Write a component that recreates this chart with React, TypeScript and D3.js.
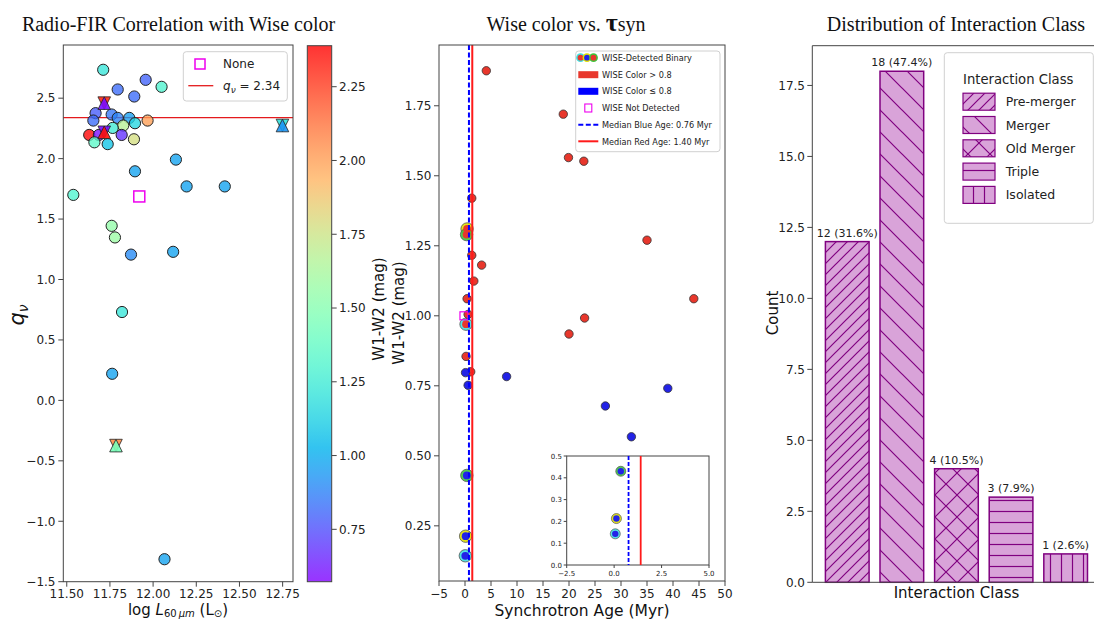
import React from 'react';
import * as d3 from 'd3';

// ---------- Left panel: Radio-FIR correlation ----------
const lumX = [11.538, 11.711, 11.795, 11.957, 12.049, 11.891, 11.667, 11.654, 11.76, 11.795, 11.862, 11.895, 11.968, 11.827, 11.766, 11.63, 11.686, 11.818, 11.66, 11.737, 11.889, 12.132, 11.895, 12.194, 12.415, 11.76, 11.779, 11.872, 12.116, 11.82, 11.763, 12.066];
const qVals = [1.70, 2.735, 2.572, 2.652, 2.594, 2.514, 2.376, 2.315, 2.365, 2.337, 2.337, 2.293, 2.315, 2.274, 2.254, 2.196, 2.196, 2.196, 2.135, 2.12, 2.16, 1.992, 1.895, 1.77, 1.77, 1.444, 1.348, 1.206, 1.229, 0.731, 0.22, -1.314];
const w12 = [1.30, 1.22, 0.82, 0.80, 1.30, 0.82, 0.78, 0.82, 0.85, 0.88, 0.96, 1.15, 2.0, 1.68, 1.25, 2.389, 0.6, 0.68, 1.35, 1.08, 1.78, 0.97, 0.97, 0.97, 0.97, 1.55, 1.58, 0.9, 0.97, 1.22, 0.97, 0.97];
const triX = [11.717, 11.717, 12.749, 11.785];
const triQ = [2.459, 2.218, 2.274, -0.374];
const triUpW = [0.6, 2.35, 0.93, 1.45];
const triDownW = [2.3, 0.6, 1.2, 2.05];
const noneX = [11.92];
const noneQ = [1.687];
const qLine = 2.34;
const leftXTicks = [11.5, 11.75, 12.0, 12.25, 12.5, 12.75];
const leftYTicks = [-1.5, -1.0, -0.5, 0.0, 0.5, 1.0, 1.5, 2.0, 2.5];
const cbarTicks = [0.75, 1.0, 1.25, 1.5, 1.75, 2.0, 2.25];
const cbarMin = 0.5725;
const cbarMax = 2.389;

// ---------- Middle panel: WISE color vs synchrotron age ----------
const redAge = [4.1, 18.9, 19.9, 22.85, 1.3, 1.3, 3.2, 1.7, 0.4, 35.0, 44.0, 23.0, 20.0, 0.2, 1.1, 0.6];
const redW = [1.875, 1.72, 1.565, 1.552, 1.42, 1.216, 1.181, 1.124, 1.061, 1.27, 1.061, 0.992, 0.935, 0.855, 0.80, 1.005];
const blueAge = [0.1, 0.6, 8.0, 27.0, 32.0, 39.0];
const blueW = [0.797, 0.752, 0.783, 0.678, 0.568, 0.741];
const binAge = [0.4, 0.3, 0.2, 0.35, 0.12, 0.06];
const binW = [1.31, 1.29, 0.97, 0.43, 0.213, 0.143];
const binRing = ['#e0e000', '#3cc83c', '#40e0e0', '#3cc83c', '#e0e000', '#40e0e0'];
const notDetAge = [-0.2];
const notDetW = [1.0];
const medianBlue = 0.76;
const medianRed = 1.40;
const midXTicks = [-5, 0, 5, 10, 15, 20, 25, 30, 35, 40, 45, 50];
const midYTicks = [0.25, 0.5, 0.75, 1.0, 1.25, 1.5, 1.75];
const insetXTicks = [-2.5, 0.0, 2.5, 5.0];
const insetYTicks = [0.0, 0.1, 0.2, 0.3, 0.4, 0.5];

// ---------- Right panel: interaction class ----------
const classes = ['Pre-merger', 'Merger', 'Old Merger', 'Triple', 'Isolated'];
const counts = [12, 18, 4, 3, 1];
const hatchIds = ['h-fwd', 'h-back', 'h-cross', 'h-horiz', 'h-vert'];
const rightYTicks = [0, 2.5, 5.0, 7.5, 10.0, 12.5, 15.0, 17.5];

const RED = '#e8372c';
const BLUE = '#2323e6';
const PURPLE = '#800080';
const PLUM = '#d9a3d9';
const SPINE = '#444';
const FONT = '"DejaVu Sans", sans-serif';
const SERIF = '"Liberation Serif", "Times New Roman", serif';

function rainbow(t: number): string {
  const c = (v: number) => Math.max(0, Math.min(1, v));
  const r = c(Math.abs(2 * t - 0.5));
  const g = c(Math.sin(Math.PI * t));
  const b = c(Math.cos((Math.PI * t) / 2));
  return d3.rgb(r * 255, g * 255, b * 255).formatHex();
}
const fmtMinus = (s: string) => s.replace('-', '\u2212');

export default function App() {
  const lx = d3.scaleLinear().domain([11.48, 12.81]).range([63.3, 293]);
  const ly = d3.scaleLinear().domain([-1.5, 2.94]).range([581.7, 45]);
  const cnorm = d3.scaleLinear().domain([cbarMin, cbarMax]).range([0, 1]).clamp(true);
  const cmap = (v: number) => rainbow(cnorm(v));
  const cy = d3.scaleLinear().domain([cbarMin, cbarMax]).range([581.7, 45.7]);

  const mx = d3.scaleLinear().domain([-5, 50]).range([439, 725]);
  const my = d3.scaleLinear().domain([0.053, 1.967]).range([581, 45]);
  const ix = d3.scaleLinear().domain([-2.5, 5]).range([566.7, 709]);
  const iy = d3.scaleLinear().domain([0, 0.5]).range([565, 456]);

  const rx = d3.scaleLinear().domain([-0.64, 4.64]).range([812.3, 1100.6]);
  const ry = d3.scaleLinear().domain([0, 18.9]).range([582.3, 45.7]);
  const total = d3.sum(counts);

  const tri = (x: number, y: number, s: number, up: boolean) => {
    const h = s;
    return up
      ? `M${x},${y - h} L${x + s},${y + h} L${x - s},${y + h} Z`
      : `M${x},${y + h} L${x + s},${y - h} L${x - s},${y - h} Z`;
  };

  const gradStops = d3.range(0, 1.0001, 0.05);
  const hatchLine = { stroke: PURPLE, strokeWidth: 1.2, fill: 'none' } as const;

  return (
    <svg width={1094} height={619} style={{ position: 'absolute', left: 0, top: 0, background: '#fff' }}
      fontFamily={FONT}>
      <defs>
        <linearGradient id="cbar" x1="0" y1="1" x2="0" y2="0">
          {gradStops.map((t, i) => (
            <stop key={i} offset={t} stopColor={rainbow(t)} />
          ))}
        </linearGradient>
        <pattern id="h-fwd" patternUnits="userSpaceOnUse" width={11} height={11}>
          <rect width={11} height={11} fill={PLUM} />
          <path d="M0,11 L11,0 M-2,2 L2,-2 M9,13 L13,9" {...hatchLine} />
        </pattern>
        <pattern id="h-back" patternUnits="userSpaceOnUse" width={22} height={22}>
          <rect width={22} height={22} fill={PLUM} />
          <path d="M0,0 L22,22 M-4,18 L4,26 M18,-4 L26,4" {...hatchLine} />
        </pattern>
        <pattern id="h-cross" patternUnits="userSpaceOnUse" width={22} height={22}>
          <rect width={22} height={22} fill={PLUM} />
          <path d="M0,0 L22,22 M-4,18 L4,26 M18,-4 L26,4 M0,22 L22,0 M-4,4 L4,-4 M18,26 L26,18" {...hatchLine} />
        </pattern>
        <pattern id="h-horiz" patternUnits="userSpaceOnUse" width={11} height={11}>
          <rect width={11} height={11} fill={PLUM} />
          <path d="M0,5.5 L11,5.5" {...hatchLine} />
        </pattern>
        <pattern id="h-vert" patternUnits="userSpaceOnUse" width={11} height={11}>
          <rect width={11} height={11} fill={PLUM} />
          <path d="M5.5,0 L5.5,11" {...hatchLine} />
        </pattern>
      </defs>
      <rect width={1094} height={619} fill="#fff" />

      {/* ================= LEFT PANEL ================= */}
      <text x={178.5} y={31} fontFamily={SERIF} fontSize={20} textAnchor="middle" fill="#111">
        Radio-FIR Correlation with Wise color
      </text>
      <line x1={lx.range()[0]} x2={lx.range()[1]} y1={ly(qLine)} y2={ly(qLine)} stroke="#e41a1c" strokeWidth={1.3} />
      {lumX.map((x, i) => (
        <circle key={i} cx={lx(x)} cy={ly(qVals[i])} r={5.6} fill={cmap(w12[i])} fillOpacity={0.78}
          stroke="#222" strokeWidth={1} />
      ))}
      {triX.map((x, i) => (
        <g key={i}>
          <path d={tri(lx(x), ly(triQ[i]), 6.3, false)} fill={cmap(triDownW[i])} fillOpacity={0.9} stroke="#222" strokeWidth={0.8} />
          <path d={tri(lx(x), ly(triQ[i]), 6.3, true)} fill={cmap(triUpW[i])} fillOpacity={0.9} stroke="#222" strokeWidth={0.8} />
        </g>
      ))}
      {noneX.map((x, i) => (
        <rect key={i} x={lx(x) - 5.5} y={ly(noneQ[i]) - 5.5} width={11} height={11} fill="none"
          stroke="#ee00ee" strokeWidth={1.5} />
      ))}
      <rect x={63.3} y={45} width={293 - 63.3} height={581.7 - 45} fill="none" stroke={SPINE} strokeWidth={1} />
      {leftXTicks.map((t) => (
        <g key={t}>
          <line x1={lx(t)} x2={lx(t)} y1={581.7} y2={586.7} stroke={SPINE} />
          <text x={lx(t)} y={597.5} fontSize={12} textAnchor="middle" fill="#222">{t.toFixed(2)}</text>
        </g>
      ))}
      {leftYTicks.map((t) => (
        <g key={t}>
          <line x1={58.3} x2={63.3} y1={ly(t)} y2={ly(t)} stroke={SPINE} />
          <text x={55.5} y={ly(t) + 4.3} fontSize={12} textAnchor="end" fill="#222">{fmtMinus(t.toFixed(1))}</text>
        </g>
      ))}
      <text x={178} y={614.5} fontSize={15} textAnchor="middle" fill="#111">
        <tspan>log </tspan>
        <tspan fontStyle="italic">L</tspan>
        <tspan fontSize={10} dy={2}>60</tspan>
        <tspan fontSize={10} fontStyle="italic">{'\u2009\u03bcm'}</tspan>
        <tspan dy={-2}>{' (L'}</tspan>
        <tspan fontSize={10} dy={2}>{'\u2299'}</tspan>
        <tspan dy={-2}>)</tspan>
      </text>
      <text transform="translate(24,315) rotate(-90)" fontSize={21} textAnchor="middle" fill="#111">
        <tspan fontStyle="italic">q</tspan>
        <tspan fontSize={14} dy={4} fontStyle="italic">{'\u03bd'}</tspan>
      </text>
      <rect x={183.3} y={51.7} width={104} height={49.3} rx={3} fill="#fff" fillOpacity={0.85} stroke="#d0d0d0" />
      <rect x={195} y={59} width={10} height={10} fill="none" stroke="#ee00ee" strokeWidth={1.5} />
      <text x={223} y={68.3} fontSize={12} fill="#222">None</text>
      <line x1={188.3} x2={213.3} y1={85.7} y2={85.7} stroke="#e41a1c" strokeWidth={1.3} />
      <text x={223} y={90} fontSize={12} fill="#222">
        <tspan fontStyle="italic">q</tspan>
        <tspan fontSize={9} dy={3} fontStyle="italic">{'\u03bd'}</tspan>
        <tspan dy={-3}>{' = 2.34'}</tspan>
      </text>

      {/* colorbar */}
      <rect x={307.3} y={45.7} width={24.4} height={536} fill="url(#cbar)" fillOpacity={0.8} />
      <rect x={307.3} y={45.7} width={24.4} height={536} fill="none" stroke={SPINE} strokeWidth={1} />
      {cbarTicks.map((t) => (
        <g key={t}>
          <line x1={331.7} x2={336.7} y1={cy(t)} y2={cy(t)} stroke={SPINE} />
          <text x={339} y={cy(t) + 4.3} fontSize={12} fill="#222">{t.toFixed(2)}</text>
        </g>
      ))}
      <text transform="translate(384,309) rotate(-90)" fontSize={15} textAnchor="middle" fill="#111">W1-W2 (mag)</text>

      {/* ================= MIDDLE PANEL ================= */}
      <text x={566} y={31} fontFamily={SERIF} fontSize={20} textAnchor="middle" fill="#111">
        <tspan>Wise color vs. </tspan>
        <tspan fontSize={26} fontWeight="bold">{'\u03c4'}</tspan>
        <tspan>syn</tspan>
      </text>
      <text transform="translate(404,313) rotate(-90)" fontSize={15} textAnchor="middle" fill="#111">W1-W2 (mag)</text>
      {binAge.map((a, i) => (
        <circle key={'ring' + i} cx={mx(a)} cy={my(binW[i])} r={6.2} fill={binRing[i]} fillOpacity={0.9}
          stroke="#555" strokeWidth={0.8} />
      ))}
      {redAge.map((a, i) => (
        <circle key={'r' + i} cx={mx(a)} cy={my(redW[i])} r={4.2} fill={RED} stroke="#333" strokeWidth={0.8} />
      ))}
      {blueAge.map((a, i) => (
        <circle key={'b' + i} cx={mx(a)} cy={my(blueW[i])} r={4.2} fill={BLUE} stroke="#333" strokeWidth={0.8} />
      ))}
      {binAge.map((a, i) => (
        <circle key={'bd' + i} cx={mx(a)} cy={my(binW[i])} r={3.9} fill={binW[i] > 0.8 ? RED : BLUE} />
      ))}
      {notDetAge.map((a, i) => (
        <rect key={'nd' + i} x={mx(a) - 4} y={my(notDetW[i]) - 4} width={8} height={8} fill="none"
          stroke="#ee00ee" strokeWidth={1.2} />
      ))}
      <line x1={mx(medianBlue)} x2={mx(medianBlue)} y1={45} y2={581} stroke="#0000ff" strokeWidth={2}
        strokeDasharray="5,2.5" />
      <line x1={mx(medianRed)} x2={mx(medianRed)} y1={45} y2={581} stroke="#ff1a1a" strokeWidth={2} />
      <rect x={439} y={45} width={725 - 439} height={581 - 45} fill="none" stroke={SPINE} strokeWidth={1} />
      {midXTicks.map((t) => (
        <g key={t}>
          <line x1={mx(t)} x2={mx(t)} y1={581} y2={586} stroke={SPINE} />
          <text x={mx(t)} y={597.5} fontSize={12} textAnchor="middle" fill="#222">{fmtMinus(String(t))}</text>
        </g>
      ))}
      {midYTicks.map((t) => (
        <g key={t}>
          <line x1={434} x2={439} y1={my(t)} y2={my(t)} stroke={SPINE} />
          <text x={431.5} y={my(t) + 4.3} fontSize={12} textAnchor="end" fill="#222">{t.toFixed(2)}</text>
        </g>
      ))}
      <text x={582} y={615.5} fontSize={15.5} textAnchor="middle" fill="#111">Synchrotron Age (Myr)</text>

      {/* middle legend */}
      <rect x={575.7} y={51} width={144.3} height={100.7} rx={3} fill="#fff" fillOpacity={0.85} stroke="#d0d0d0" />
      {[
        ['#40e0e0', RED, 580.5],
        ['#e0e000', BLUE, 587],
        ['#3cc83c', RED, 593.5],
      ].map(([ring, dot, x], i) => (
        <g key={'lg' + i}>
          <circle cx={x as number} cy={57.7} r={4.4} fill={ring as string} />
          <circle cx={x as number} cy={57.7} r={2.9} fill={dot as string} />
        </g>
      ))}
      <rect x={578.3} y={71.2} width={20} height={7} fill={RED} />
      <rect x={578.3} y={87.8} width={20} height={7} fill="#0000ff" />
      <rect x={584.8} y={104} width={7} height={8} fill="none" stroke="#ee00ee" strokeWidth={1.1} />
      <line x1={578.3} x2={598.3} y1={124.7} y2={124.7} stroke="#0000ff" strokeWidth={2} strokeDasharray="5,2.5" />
      <line x1={578.3} x2={598.3} y1={141.3} y2={141.3} stroke="#ff1a1a" strokeWidth={2} />
      {[
        'WISE-Detected Binary',
        'WISE Color > 0.8',
        'WISE Color \u2264 0.8',
        'WISE Not Detected',
        'Median Blue Age: 0.76 Myr',
        'Median Red Age: 1.40 Myr',
      ].map((s, i) => (
        <text key={s} x={602} y={57.7 + i * 16.7 + 3.4} fontSize={9.5} fill="#222"
          transform={`translate(${602 * 0.14},0) scale(0.86,1)`}>{s}</text>
      ))}

      {/* inset */}
      <rect x={566.7} y={456} width={709 - 566.7} height={565 - 456} fill="#fff" stroke={SPINE} strokeWidth={1} />
      {binAge.map((a, i) => (binW[i] <= 0.5 ? (
        <g key={'in' + i}>
          <circle cx={ix(a)} cy={iy(binW[i])} r={5} fill={binRing[i]} fillOpacity={0.9} stroke="#555" strokeWidth={0.7} />
          <circle cx={ix(a)} cy={iy(binW[i])} r={3.2} fill={BLUE} />
        </g>
      ) : null))}
      <line x1={ix(medianBlue)} x2={ix(medianBlue)} y1={456} y2={565} stroke="#0000ff" strokeWidth={1.8} strokeDasharray="4,2" />
      <line x1={ix(medianRed)} x2={ix(medianRed)} y1={456} y2={565} stroke="#ff1a1a" strokeWidth={1.8} />
      {insetXTicks.map((t) => (
        <g key={'ix' + t}>
          <line x1={ix(t)} x2={ix(t)} y1={565} y2={568} stroke={SPINE} />
          <text x={ix(t)} y={576} fontSize={7} textAnchor="middle" fill="#222">{fmtMinus(t.toFixed(1))}</text>
        </g>
      ))}
      {insetYTicks.map((t) => (
        <g key={'iy' + t}>
          <line x1={563.7} x2={566.7} y1={iy(t)} y2={iy(t)} stroke={SPINE} />
          <text x={562} y={iy(t) + 2.5} fontSize={7} textAnchor="end" fill="#222">{t.toFixed(1)}</text>
        </g>
      ))}

      {/* ================= RIGHT PANEL ================= */}
      <text x={956} y={31} fontFamily={SERIF} fontSize={20} textAnchor="middle" fill="#111">
        Distribution of Interaction Class
      </text>
      {counts.map((c, i) => (
        <g key={classes[i]}>
          <rect x={rx(i - 0.4)} y={ry(c)} width={rx(i + 0.4) - rx(i - 0.4)} height={ry(0) - ry(c)}
            fill={`url(#${hatchIds[i]})`} stroke={PURPLE} strokeWidth={1.5} />
          <text x={rx(i)} y={ry(c) - 5} fontSize={11} textAnchor="middle" fill="#222">
            {`${c} (${((c / total) * 100).toFixed(1)}%)`}
          </text>
        </g>
      ))}
      <line x1={812.3} x2={1100} y1={45.7} y2={45.7} stroke={SPINE} />
      <line x1={812.3} x2={1100} y1={582.3} y2={582.3} stroke={SPINE} />
      <line x1={812.3} x2={812.3} y1={45.7} y2={582.3} stroke={SPINE} />
      {rightYTicks.map((t) => (
        <g key={'ry' + t}>
          <line x1={807.3} x2={812.3} y1={ry(t)} y2={ry(t)} stroke={SPINE} />
          <text x={805} y={ry(t) + 4.3} fontSize={12} textAnchor="end" fill="#222">{t.toFixed(1)}</text>
        </g>
      ))}
      <text x={956.5} y={598} fontSize={15} textAnchor="middle" fill="#111">Interaction Class</text>
      <text transform="translate(778,313) rotate(-90)" fontSize={15} textAnchor="middle" fill="#111">Count</text>
      <rect x={944.3} y={52.7} width={149} height={170.6} rx={3} fill="#fff" fillOpacity={0.9} stroke="#d0d0d0" />
      <text x={963} y={83.5} fontSize={13.2} fill="#222">Interaction Class</text>
      {classes.map((c, i) => (
        <g key={'lgr' + c}>
          <rect x={963} y={101.7 + i * 23.3 - 8.5} width={32} height={17} fill={`url(#${hatchIds[i]})`}
            stroke={PURPLE} strokeWidth={1.2} />
          <text x={1005.7} y={101.7 + i * 23.3 + 4.5} fontSize={12.5} fill="#222">{c}</text>
        </g>
      ))}
    </svg>
  );
}
